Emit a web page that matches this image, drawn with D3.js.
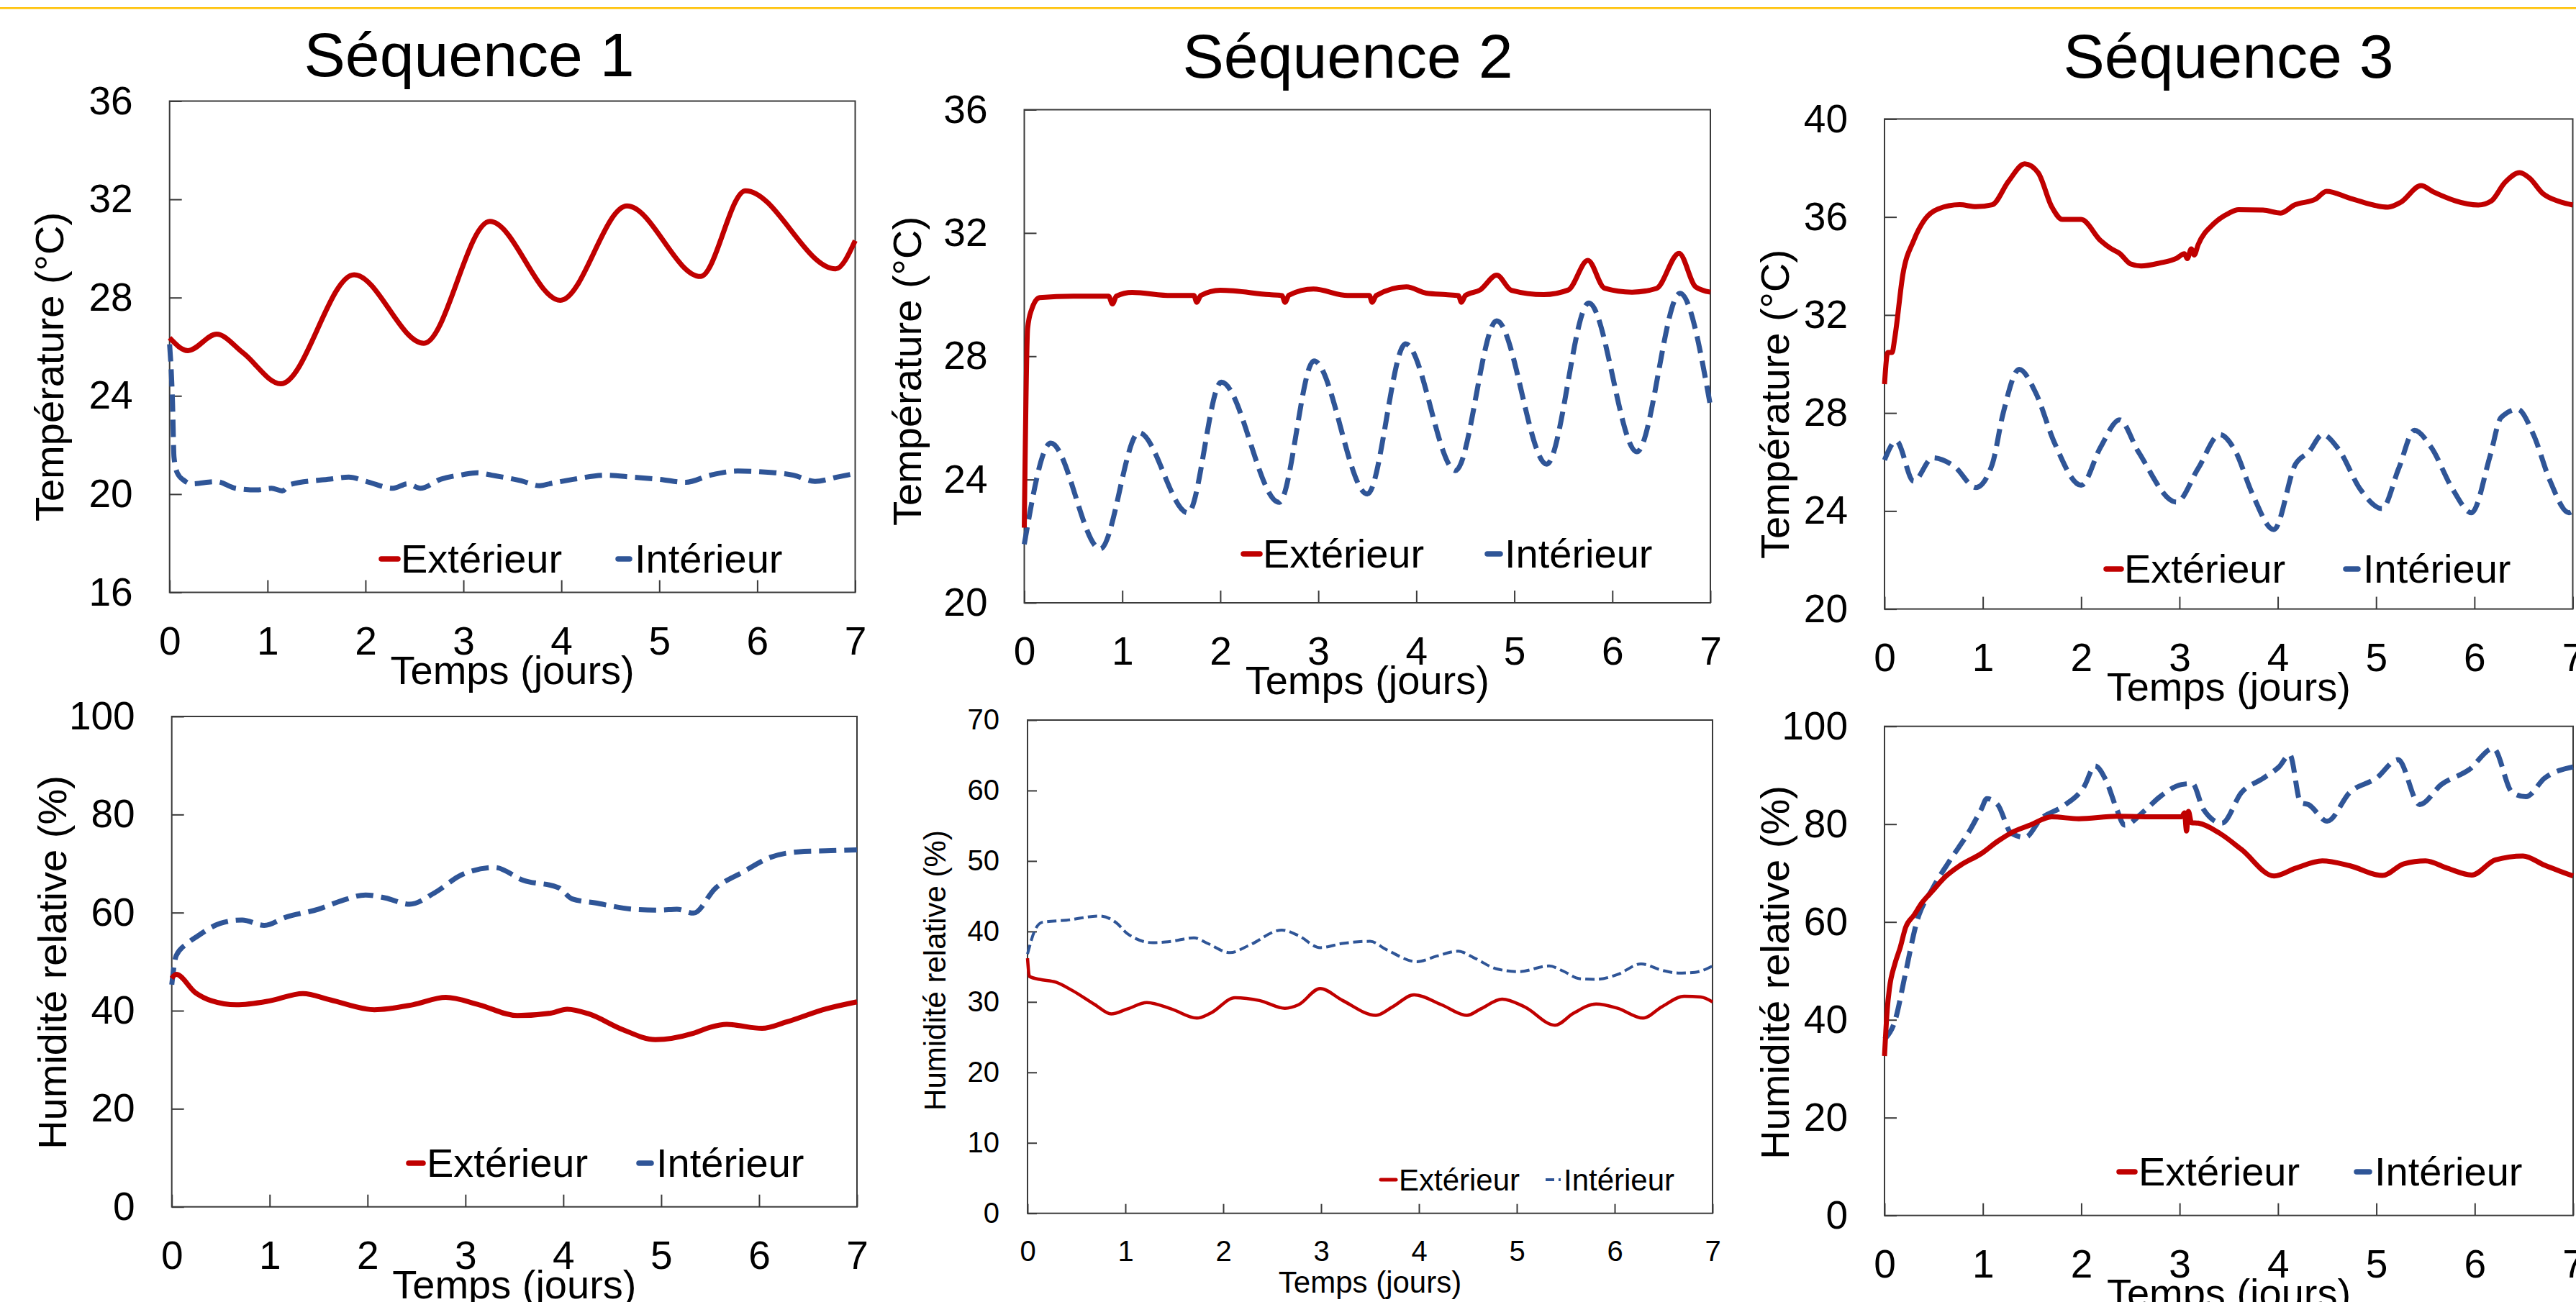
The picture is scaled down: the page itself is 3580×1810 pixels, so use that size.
<!DOCTYPE html>
<html><head><meta charset="utf-8">
<script src="https://cdn.jsdelivr.net/npm/d3@7/dist/d3.min.js"></script>
<style>
body{margin:0;background:#fff}
svg{display:block}
text{font-family:"Liberation Sans",Arial,Helvetica,sans-serif;fill:#000}
</style>
</head><body>
<svg id="chart" width="3580" height="1810"></svg>
<script>
// ---------- DATA ----------
const dayTicks = [0,1,2,3,4,5,6,7];
const tempTicks1 = [16,20,24,28,32,36];
const tempTicks2 = [20,24,28,32,36];
const tempTicks3 = [20,24,28,32,36,40];
const hrTicks100 = [0,20,40,60,80,100];
const hrTicks70 = [0,10,20,30,40,50,60,70];
const titles = ["Séquence 1","Séquence 2","Séquence 3"];
const seriesNames = ["Extérieur","Intérieur"];

// Séquence 1 – température
const seq1TempExt = [[0,26.36],[0.187,25.84],[0.48,26.51],[0.75,25.75],[1.135,24.49],[1.884,28.93],[2.596,26.14],[3.27,31.1],[3.99,27.89],[4.67,31.73],[5.42,28.86],[5.88,32.35],[6.80,29.17],[7.0,30.32]];
const seq1TempInt = [[0,26.1],[0.03,23.7],[0.045,21.5],[0.08,20.85],[0.15,20.55],[0.22,20.42],[0.48,20.51],[0.67,20.24],[0.89,20.17],[1.04,20.24],[1.15,20.13],[1.23,20.39],[1.64,20.61],[1.83,20.69],[2.02,20.5],[2.28,20.24],[2.43,20.42],[2.56,20.24],[2.77,20.61],[2.99,20.79],[3.14,20.87],[3.29,20.77],[3.59,20.54],[3.78,20.34],[3.89,20.43],[4.12,20.6],[4.45,20.77],[4.73,20.69],[5.01,20.6],[5.27,20.48],[5.52,20.77],[5.80,20.94],[6.08,20.9],[6.37,20.77],[6.59,20.52],[6.81,20.69],[7.0,20.84]];
// Séquence 2 – température
const seq2TempExt = [[0,22.44],[0.034,28.9],[0.073,29.5],[0.157,29.9],[0.5,29.95],[0.86,29.95],[0.9,29.7],[0.94,29.95],[1.1,30.07],[1.5,29.97],[1.73,29.97],[1.76,29.75],[1.8,29.97],[2.0,30.14],[2.5,30.0],[2.63,29.97],[2.66,29.75],[2.7,29.98],[2.95,30.18],[3.3,29.97],[3.52,29.97],[3.55,29.75],[3.59,29.97],[3.9,30.25],[4.1,30.05],[4.3,30.0],[4.43,29.97],[4.46,29.75],[4.5,29.97],[4.65,30.15],[4.82,30.63],[4.97,30.14],[5.3,30.0],[5.55,30.15],[5.75,31.11],[5.92,30.21],[6.2,30.08],[6.45,30.2],[6.68,31.34],[6.85,30.25],[7.0,30.08]];
const seq2TempInt = [[0,21.9],[0.27,25.18],[0.775,21.75],[1.17,25.52],[1.67,22.92],[2.01,27.16],[2.6,23.26],[2.955,27.85],[3.5,23.53],[3.89,28.4],[4.4,24.29],[4.82,29.15],[5.33,24.5],[5.76,29.73],[6.25,24.9],[6.69,30.04],[7.0,26.4]];
// Séquence 3 – température
const seq3TempExt = [[0,29.18],[0.033,30.47],[0.077,30.47],[0.105,31.08],[0.187,33.66],[0.297,35.04],[0.41,35.9],[0.545,36.33],[0.765,36.5],[0.93,36.42],[1.096,36.5],[1.26,37.45],[1.426,38.17],[1.564,37.8],[1.70,36.42],[1.81,35.9],[2.0,35.9],[2.197,35.04],[2.307,34.7],[2.39,34.52],[2.5,34.09],[2.61,34.0],[2.80,34.12],[2.97,34.31],[3.05,34.5],[3.08,34.3],[3.12,34.7],[3.15,34.45],[3.19,34.87],[3.35,35.73],[3.5,36.15],[3.6,36.3],[3.85,36.28],[4.03,36.16],[4.17,36.49],[4.385,36.73],[4.495,37.05],[4.74,36.76],[5.12,36.4],[5.25,36.6],[5.457,37.28],[5.58,37.03],[6.04,36.49],[6.17,36.65],[6.31,37.41],[6.46,37.81],[6.565,37.57],[6.69,36.98],[6.85,36.65],[7.0,36.49]];
const seq3TempInt = [[0,26.08],[0.12,26.86],[0.297,25.22],[0.49,26.17],[0.71,25.82],[0.93,24.96],[1.096,25.91],[1.206,27.98],[1.37,29.78],[1.536,28.84],[1.73,26.77],[2.0,25.05],[2.197,26.6],[2.39,27.72],[2.58,26.43],[2.97,24.36],[3.19,25.74],[3.41,27.12],[3.57,26.43],[3.74,24.71],[3.96,23.24],[4.18,25.91],[4.32,26.43],[4.455,27.12],[4.62,26.51],[4.84,24.88],[5.06,24.1],[5.23,25.74],[5.39,27.29],[5.56,26.6],[5.78,24.88],[5.97,23.93],[6.16,26.26],[6.27,27.81],[6.44,28.15],[6.6,27.12],[6.77,25.22],[6.96,23.93],[7.0,24.0]];
// Séquence 1 – humidité relative
const seq1HrExt = [[0,46.6],[0.045,47.4],[0.24,43.7],[0.41,42.0],[0.66,41.2],[1.0,42.0],[1.34,43.5],[1.62,42.2],[2.07,40.2],[2.46,41.2],[2.8,42.7],[3.14,41.2],[3.53,39.0],[3.87,39.5],[4.04,40.3],[4.26,39.35],[4.6,36.2],[4.94,34.1],[5.33,35.4],[5.5,36.6],[5.67,37.2],[6.03,36.4],[6.28,37.7],[6.68,40.35],[7.0,41.8]];
const seq1HrInt = [[0,45.3],[0.045,51.2],[0.157,53.7],[0.27,55.3],[0.495,57.8],[0.72,58.5],[0.944,57.4],[1.17,59.1],[1.5,60.7],[1.73,62.4],[1.98,63.6],[2.18,63.0],[2.43,61.7],[2.69,64.1],[2.97,67.8],[3.3,69.2],[3.59,66.6],[3.95,65.1],[4.09,62.8],[4.32,62.0],[4.71,60.7],[4.99,60.5],[5.16,60.7],[5.33,59.9],[5.55,64.9],[5.83,68.2],[6.12,71.3],[6.4,72.4],[6.68,72.6],[7.0,72.8]];
// Séquence 2 – humidité relative
const seq2HrExt = [[0,36.2],[0.02,33.6],[0.124,33.2],[0.29,32.8],[0.46,31.6],[0.69,29.6],[0.855,28.3],[1.02,29.0],[1.22,29.9],[1.47,29.0],[1.73,27.7],[1.87,28.4],[2.12,30.6],[2.37,30.2],[2.63,29.1],[2.77,29.6],[2.99,31.9],[3.22,30.2],[3.56,28.1],[3.73,29.3],[3.95,31.0],[4.23,29.6],[4.49,28.1],[4.63,29.0],[4.85,30.4],[5.08,29.3],[5.39,26.7],[5.58,28.4],[5.81,29.7],[6.03,29.1],[6.29,27.7],[6.48,29.3],[6.71,30.8],[6.88,30.7],[7.0,30.0]];
const seq2HrInt = [[0,36.8],[0.07,40.0],[0.15,41.3],[0.4,41.6],[0.74,42.2],[0.91,41.2],[1.02,39.7],[1.28,38.4],[1.47,38.6],[1.7,39.1],[1.84,38.3],[2.07,37.0],[2.26,38.0],[2.6,40.2],[2.77,39.4],[2.99,37.7],[3.22,38.3],[3.5,38.6],[3.67,37.4],[3.98,35.7],[4.18,36.5],[4.4,37.2],[4.57,36.2],[4.79,34.7],[5.02,34.3],[5.33,35.1],[5.47,34.4],[5.64,33.3],[5.81,33.2],[6.03,33.9],[6.27,35.4],[6.48,34.5],[6.65,34.1],[6.82,34.2],[7.0,35.1]];
// Séquence 3 – humidité relative
const seq3HrExt = [[0,32.6],[0.028,42.2],[0.05,46.4],[0.105,51.4],[0.16,54.8],[0.215,58.9],[0.3,61.4],[0.38,63.9],[0.49,66.4],[0.6,68.9],[0.765,71.5],[0.985,74.0],[1.15,76.5],[1.315,78.5],[1.48,79.8],[1.7,81.5],[1.975,81.1],[2.36,81.6],[2.8,81.5],[3.02,81.5],[3.05,82.3],[3.07,78.6],[3.09,82.6],[3.12,80.3],[3.19,80.2],[3.41,78.1],[3.63,74.8],[3.96,69.4],[4.18,71.0],[4.45,72.5],[4.73,71.5],[5.06,69.5],[5.28,71.9],[5.5,72.5],[5.72,71.0],[5.97,69.6],[6.21,72.7],[6.49,73.5],[6.71,71.6],[7.0,69.4]];
const seq3HrInt = [[0,36.0],[0.105,39.7],[0.215,49.7],[0.325,59.8],[0.49,66.9],[0.655,72.3],[0.875,79.0],[0.985,83.1],[1.04,85.2],[1.15,84.0],[1.29,78.1],[1.43,77.3],[1.59,81.1],[1.81,83.6],[2.03,87.7],[2.14,91.9],[2.25,89.0],[2.36,83.1],[2.44,79.8],[2.64,82.7],[2.8,85.6],[3.02,88.1],[3.13,88.3],[3.24,83.1],[3.43,80.2],[3.63,86.5],[3.85,89.4],[4.01,91.7],[4.12,94.2],[4.23,84.4],[4.31,84.0],[4.5,80.6],[4.73,86.5],[5.0,89.4],[5.22,93.2],[5.44,84.0],[5.66,88.1],[5.94,91.1],[6.19,95.5],[6.38,86.5],[6.52,85.6],[6.71,89.4],[7.0,91.7]];

// ---------- LAYOUT ----------
const RED = "#C00000", BLUE = "#2F5597";
const panels = [
  {x0:235.7,x1:1188.5,y0:140.5,y1:823.5,dom:[16,36],ticks:tempTicks1,ext:seq1TempExt,int:seq1TempInt,ylab:"Température (°C)",ylx:88,yly:510,small:false,
   leg:{r0:530,r1:553,t1:557,b0:859,b1:875,t2:882,by:796}, title:{t:titles[0],x:652,y:106}},
  {x0:1423.5,x1:2377,y0:152.5,y1:838,dom:[20,36],ticks:tempTicks2,ext:seq2TempExt,int:seq2TempInt,ylab:"Température (°C)",ylx:1280,yly:516,small:false,
   leg:{r0:1728,r1:1751,t1:1755,b0:2067,b1:2085,t2:2091,by:789}, title:{t:titles[1],x:1873,y:108}},
  {x0:2619,x1:3575.5,y0:165.4,y1:846.6,dom:[20,40],ticks:tempTicks3,ext:seq3TempExt,int:seq3TempInt,ylab:"Température (°C)",ylx:2486,yly:562,small:false,
   leg:{r0:2927,r1:2948,t1:2952,b0:3260,b1:3277,t2:3284,by:810}, title:{t:titles[2],x:3097,y:108}},
  {x0:238.7,x1:1191,y0:996,y1:1677.7,dom:[0,100],ticks:hrTicks100,ext:seq1HrExt,int:seq1HrInt,ylab:"Humidité relative (%)",ylx:92,yly:1338,small:false,
   leg:{r0:568,r1:588,t1:593,b0:888,b1:905,t2:912,by:1636}},
  {x0:1428,x1:2380,y0:1001,y1:1686.7,dom:[0,70],ticks:hrTicks70,ext:seq2HrExt,int:seq2HrInt,ylab:"Humidité relative (%)",ylx:1314,yly:1349,small:true,
   leg:{r0:1919,r1:1940,t1:1944,b0:2148,b1:2169,t2:2173,by:1655}},
  {x0:2619,x1:3576,y0:1009.7,y1:1689.7,dom:[0,100],ticks:hrTicks100,ext:seq3HrExt,int:seq3HrInt,ylab:"Humidité relative (%)",ylx:2486,yly:1352,small:false,
   leg:{r0:2945,r1:2967,t1:2972,b0:3275,b1:3293,t2:3300,by:1648}}
];

const svg = d3.select("#chart");
svg.append("rect").attr("x",0).attr("y",0).attr("width",3580).attr("height",1810).attr("fill","#fff");
svg.append("rect").attr("x",0).attr("y",10).attr("width",3580).attr("height",2.5).attr("fill","#FFC000");

panels.forEach(p => {
  const fs = p.small ? 40 : 55;
  const lfs = p.small ? 42 : 56;
  const tick = p.small ? 13 : 17;
  const x = d3.scaleLinear().domain([0,7]).range([p.x0,p.x1]);
  const y = d3.scaleLinear().domain(p.dom).range([p.y1,p.y0]);
  const g = svg.append("g");

  // frame
  g.append("rect").attr("x",p.x0).attr("y",p.y0).attr("width",p.x1-p.x0).attr("height",p.y1-p.y0)
    .attr("fill","none").attr("stroke","#3a3a3a").attr("stroke-width",2);

  // axes
  const ya = d3.axisLeft(y).tickValues(p.ticks).tickSizeInner(-tick).tickSizeOuter(0).tickPadding(p.small?39:51).tickFormat(d3.format("d"));
  const yg = g.append("g").attr("transform",`translate(${p.x0},0)`).call(ya);
  const xa = d3.axisBottom(x).tickValues(dayTicks).tickSizeInner(-tick).tickSizeOuter(0).tickPadding(p.small?37.5:47).tickFormat(d3.format("d"));
  const xg = g.append("g").attr("transform",`translate(0,${p.y1})`).call(xa);
  [yg,xg].forEach(ax => {
    ax.select(".domain").remove();
    ax.selectAll(".tick line").attr("stroke","#3a3a3a").attr("stroke-width",2);
    ax.selectAll(".tick text").attr("font-size",fs).attr("font-family",'"Liberation Sans",Arial,sans-serif').attr("fill","#000");
  });

  // lines
  const line = d3.line().x(d=>x(d[0])).y(d=>y(d[1])).curve(d3.curveMonotoneX);
  g.append("path").datum(p.int).attr("d",line).attr("fill","none").attr("stroke",BLUE)
    .attr("stroke-width", p.small?4:7).attr("stroke-dasharray", p.small?"13,6":"24,11");
  g.append("path").datum(p.ext).attr("d",line).attr("fill","none").attr("stroke",RED)
    .attr("stroke-width",p.small?4.5:7).attr("stroke-linejoin","round");

  // axis titles
  g.append("text").attr("transform",`translate(${p.ylx},${p.yly}) rotate(-90)`).attr("text-anchor","middle")
    .attr("font-size",p.small?42:56).text(p.ylab);
  g.append("text").attr("x",(p.x0+p.x1)/2).attr("y",p.y1+(p.small?110:127)).attr("text-anchor","middle")
    .attr("font-size",p.small?42:56).text("Temps (jours)");

  // legend
  const L = p.leg, my = L.by - (p.small?15:19);
  g.append("line").attr("x1",L.r0).attr("x2",L.r1).attr("y1",my).attr("y2",my)
    .attr("stroke",RED).attr("stroke-width",p.small?5:7.5).attr("stroke-linecap","round");
  g.append("text").attr("x",L.t1).attr("y",L.by).attr("font-size",lfs).text(seriesNames[0]);
  if (p.small) {
    g.append("line").attr("x1",L.b0).attr("x2",L.b1).attr("y1",my).attr("y2",my)
      .attr("stroke",BLUE).attr("stroke-width",4).attr("stroke-dasharray","12,6");
  } else {
    g.append("line").attr("x1",L.b0).attr("x2",L.b1).attr("y1",my).attr("y2",my)
      .attr("stroke",BLUE).attr("stroke-width",7.5).attr("stroke-linecap","round");
  }
  g.append("text").attr("x",L.t2).attr("y",L.by).attr("font-size",lfs).text(seriesNames[1]);

  if (p.title) {
    svg.append("text").attr("x",p.title.x).attr("y",p.title.y).attr("text-anchor","middle")
      .attr("font-size",86).text(p.title.t);
  }
});
</script>
</body></html>
